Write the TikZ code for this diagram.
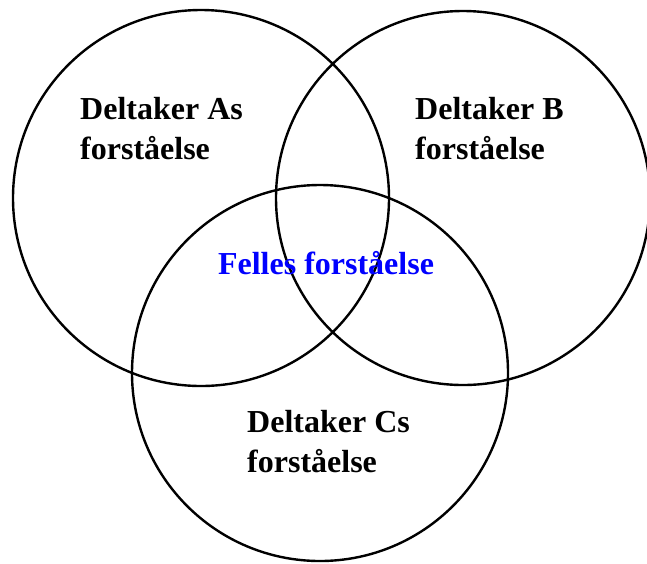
\documentclass[tikz,border=0pt]{standalone}
\usepackage{fontspec}
\setmainfont{Liberation Serif}
\usetikzlibrary{positioning}

\begin{document}
\begin{tikzpicture}[
    x=1pt, y=-1pt,
    venn/.style={circle, draw, line width=2.4pt, inner sep=0pt},
    label/.style={align=left, anchor=north west, inner sep=0pt, font=\fontsize{32}{40}\selectfont\bfseries},
  ]
  \useasboundingbox (0,0) rectangle (647,563);

  % Circles
  \node[venn, minimum size=376pt] (cA) at (201,198) {};
  \node[venn, minimum size=374pt] (cB) at (463,198) {};
  \node[venn, minimum size=376pt] (cC) at (320,373) {};

  % Labels
  \node[label] (lA) at (80,97) {Deltaker As\\forståelse};
  \node[label] (lB) at (415,97) {Deltaker B\\forståelse};
  \node[label] (lC) at (247,410) {Deltaker Cs\\forståelse};
  \node[label, anchor=center, text=blue] (felles) at (326,263) {Felles forståelse};
\end{tikzpicture}
\end{document}
